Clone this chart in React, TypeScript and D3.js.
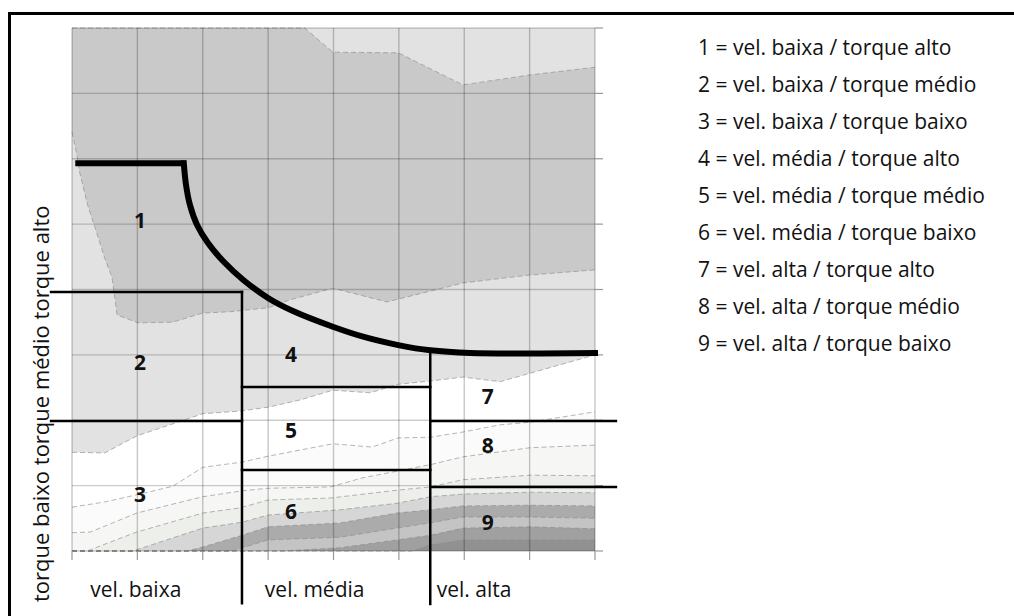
import React from 'react';
import * as d3 from 'd3';

type P = [number, number];

// grid (speed / torque units)
const speedTicks = [0, 1, 2, 3, 4, 5, 6, 7, 8];
const torqueTicks = [0, 1, 2, 3, 4, 5, 6, 7, 8];

// contour boundaries [speed, torque]
const contourTop: P[] = [[0, 8], [3.56, 8], [3.99, 7.63], [4.99, 7.62], [5.98, 7.13], [6.99, 7.28], [8, 7.4]];
const contourDarkBottom: P[] = [
  [0, 6.41], [0.06, 6.13], [0.12, 5.78], [0.24, 5.29], [0.38, 4.86], [0.5, 4.48], [0.61, 4.19], [0.66, 3.84],
  [0.69, 3.61], [1.01, 3.49], [1.54, 3.5], [2.0, 3.64], [2.42, 3.66], [3.0, 3.72], [3.33, 3.84], [3.99, 4.02],
  [4.82, 3.81], [5.98, 4.1], [6.99, 4.22], [8, 4.3],
];
const contourMid: P[] = [
  [0, 1.51], [0.5, 1.5], [0.99, 1.76], [1.5, 1.93], [2.0, 2.1], [2.57, 2.14], [3.0, 2.2], [3.49, 2.31],
  [3.99, 2.46], [4.56, 2.42], [4.99, 2.55], [5.48, 2.6], [5.98, 2.66], [6.55, 2.59], [7.01, 2.72], [8, 3.0],
];
const contourB1: P[] = [
  [0, 0.67], [0.5, 0.75], [0.99, 0.86], [1.54, 0.99], [2.0, 1.28], [2.6, 1.36], [3.0, 1.45], [3.99, 1.64],
  [4.59, 1.59], [4.99, 1.73], [5.48, 1.74], [5.98, 1.82], [6.55, 1.93], [7.01, 1.97], [8, 2.13],
];
const contourB2: P[] = [
  [0, 0.28], [0.28, 0.29], [0.99, 0.58], [2.0, 0.83], [2.6, 0.92], [3.0, 0.96], [3.95, 0.98], [4.45, 1.12],
  [5.48, 1.32], [5.98, 1.44], [7.01, 1.58], [8, 1.62],
];
const contourB3: P[] = [
  [0, 0], [0.23, 0], [0.99, 0.29], [2.0, 0.58], [2.57, 0.66], [3.0, 0.78], [3.95, 0.81], [4.97, 0.93],
  [5.48, 0.98], [5.98, 1.09], [7.01, 1.16], [8, 1.15],
];
const contourB4: P[] = [
  [0, 0], [0.93, 0], [2.0, 0.35], [2.6, 0.44], [3.0, 0.55], [4.1, 0.63], [4.97, 0.73], [5.48, 0.83],
  [5.98, 0.87], [7.01, 0.9], [8, 0.89],
];
const contourB5: P[] = [
  [0, 0], [1.76, 0], [2.0, 0.06], [2.6, 0.24], [3.0, 0.37], [4.1, 0.43], [4.97, 0.58], [5.48, 0.63],
  [5.98, 0.69], [7.01, 0.7], [8, 0.69],
];
const contourB6: P[] = [
  [0, 0], [2.45, 0], [3.0, 0.17], [4.1, 0.21], [4.97, 0.35], [5.48, 0.43], [5.98, 0.52], [7.01, 0.52], [8, 0.5],
];
const contourB7: P[] = [
  [0, 0], [3.2, 0], [4.1, 0.05], [4.97, 0.17], [5.48, 0.24], [5.98, 0.35], [7.01, 0.37], [8, 0.34],
];
const contourB8: P[] = [[0, 0], [5.2, 0], [5.48, 0.09], [5.98, 0.17], [7.01, 0.17], [8, 0.17]];

const lowerBands = [contourB1, contourB2, contourB3, contourB4, contourB5, contourB6, contourB7, contourB8];
const lowerBandColors = ['#fbfbfb', '#f6f7f4', '#edf0ea', '#d6d6d6', '#ababab', '#c4c4c4', '#a0a0a0', '#919191'];

// limit curve (power / torque envelope)
const limitFlat: P[] = [[0.05, 5.93], [1.71, 5.93]];
const limitCurve: P[] = [
  [1.71, 5.93], [1.744, 5.6], [1.805, 5.29], [1.912, 4.99], [2.08, 4.71], [2.325, 4.42], [2.616, 4.15],
  [2.998, 3.87], [3.38, 3.67], [3.99, 3.43], [4.48, 3.27], [4.99, 3.15], [5.48, 3.07], [6.09, 3.03], [8, 3.03],
];

// zone separators
const zoneLines: P[][] = [
  [[-0.32, 3.96], [2.6, 3.96]],
  [[2.6, 3.96], [2.6, -0.8]],
  [[-0.32, 1.99], [2.6, 1.99]],
  [[2.6, 2.51], [5.48, 2.51]],
  [[2.6, 1.24], [5.48, 1.24]],
  [[5.48, 3.03], [5.48, -0.81]],
  [[5.48, 1.99], [8.32, 1.99]],
  [[5.48, 0.98], [8.32, 0.98]],
];

const zoneIds = ['1', '2', '3', '4', '5', '6', '7', '8', '9'];
const zoneSpeed = [1.04, 1.04, 1.04, 3.35, 3.35, 3.35, 6.36, 6.36, 6.36];
const zoneTorque = [5.05, 2.89, 0.86, 3.0, 1.85, 0.6, 2.36, 1.61, 0.43];

const speedLabels = ['vel. baixa', 'vel. média', 'vel. alta'];
const speedLabelPos = [0.28, 2.95, 5.58];
const torqueTitle = 'torque baixo torque médio torque alto';

const legendItems = [
  '1 = vel. baixa / torque alto',
  '2 = vel. baixa / torque médio',
  '3 = vel. baixa / torque baixo',
  '4 = vel. média / torque alto',
  '5 = vel. média / torque médio',
  '6 = vel. média / torque baixo',
  '7 = vel. alta / torque alto',
  '8 = vel. alta / torque médio',
  '9 = vel. alta / torque baixo',
];

const FONT = '"Open Sans", "DejaVu Sans", sans-serif';

export default function App() {
  const x = d3.scaleLinear().domain([0, 8]).range([72, 595]);
  const y = d3.scaleLinear().domain([0, 8]).range([551, 28]);
  const line = d3.line<P>().x(d => x(d[0])).y(d => y(d[1]));
  const curve = d3.line<P>().x(d => x(d[0])).y(d => y(d[1])).curve(d3.curveCatmullRom.alpha(0.5));
  const below = (pts: P[]) => line([...pts, [8, 0], [0, 0]]) + 'Z';
  const darkPoly = line([...contourTop, ...contourDarkBottom.slice().reverse()]) + 'Z';
  const boundaries = [contourTop, contourDarkBottom, contourMid, ...lowerBands];

  return (
    <svg width={1014} height={616} style={{ position: 'absolute', left: 0, top: 0, background: '#fff' }}>
      <rect x={x(0)} y={y(8)} width={x(8) - x(0)} height={y(0) - y(8)} fill="#e2e2e2" />
      <path d={darkPoly} fill="#c9c9c9" />
      <path d={below(contourMid)} fill="#ffffff" />
      {lowerBands.map((b, i) => (
        <path key={i} d={below(b)} fill={lowerBandColors[i]} />
      ))}
      {boundaries.map((b, i) => (
        <path key={'b' + i} d={line(b) || ''} fill="none" stroke="#8a8a8a" strokeWidth={0.8} strokeDasharray="5,3" opacity={0.8} />
      ))}
      {speedTicks.map(t => (
        <line key={'vx' + t} x1={x(t)} x2={x(t)} y1={y(8)} y2={y(0)} stroke="rgba(0,0,0,0.22)" strokeWidth={1.4} />
      ))}
      {torqueTicks.map(t => (
        <line key={'hy' + t} x1={x(0)} x2={x(8)} y1={y(t)} y2={y(t)} stroke="rgba(0,0,0,0.2)" strokeWidth={1.4} />
      ))}
      {torqueTicks.map(t => (
        <line key={'ty' + t} x1={x(8)} x2={x(8) + 8} y1={y(t)} y2={y(t)} stroke="#999" strokeWidth={1.2} />
      ))}
      {speedTicks.map(t => (
        <line key={'tx' + t} x1={x(t)} x2={x(t)} y1={y(0)} y2={y(0) + 9} stroke="#999" strokeWidth={1.2} />
      ))}
      {zoneLines.map((s, i) => (
        <path key={'z' + i} d={line(s) || ''} stroke="#000" strokeWidth={2.5} fill="none" strokeLinecap="square" />
      ))}
      <path d={line(limitFlat) || ''} stroke="#000" strokeWidth={6} fill="none" strokeLinecap="butt" />
      <path d={curve(limitCurve) || ''} stroke="#000" strokeWidth={6} fill="none" strokeLinecap="square" />
      {zoneIds.map((id, i) => (
        <text key={'n' + id} x={x(zoneSpeed[i])} y={y(zoneTorque[i]) + 7.5} textAnchor="middle"
          fontFamily={FONT} fontWeight="bold" fontSize={21} fill="#111">{id}</text>
      ))}
      {speedLabels.map((s, i) => (
        <text key={'s' + i} x={x(speedLabelPos[i])} y={597} fontFamily={FONT} fontSize={21} fill="#111">{s}</text>
      ))}
      <text transform="translate(49,602) rotate(-90)" fontFamily={FONT} fontSize={22} fill="#111">{torqueTitle}</text>
      {legendItems.map((s, i) => (
        <text key={'l' + i} x={698} y={55 + 37 * i} fontFamily={FONT} fontSize={21} fill="#111">{s}</text>
      ))}
      <line x1={9} x2={1014} y1={13.5} y2={13.5} stroke="#000" strokeWidth={3} />
      <line x1={9.5} x2={9.5} y1={12} y2={616} stroke="#000" strokeWidth={3} />
    </svg>
  );
}
